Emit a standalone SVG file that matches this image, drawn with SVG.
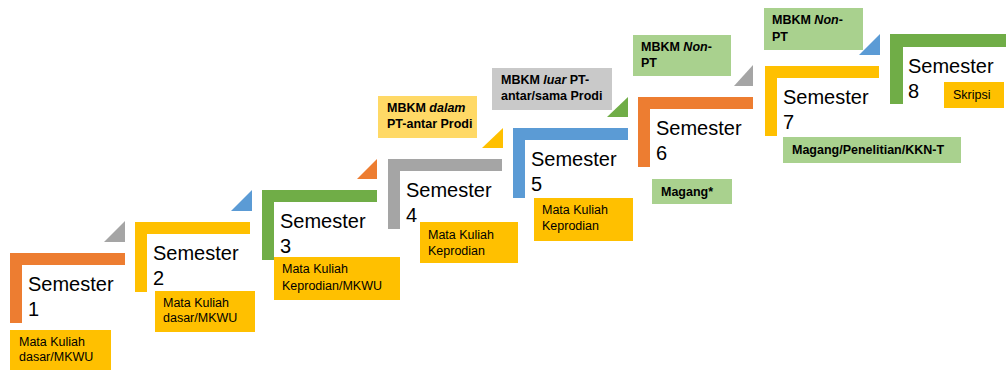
<svg xmlns="http://www.w3.org/2000/svg" width="1007" height="371" viewBox="0 0 1007 371">
<style>
.sem{font-family:"Liberation Sans",Arial,sans-serif;font-size:20px;fill:#000}
.lbl{font-family:"Liberation Sans",Arial,sans-serif;font-size:12.5px;fill:#000}
.bld{font-family:"Liberation Sans",Arial,sans-serif;font-size:12.5px;font-weight:bold;fill:#000}
.or{fill:#ED7D31}.ye{fill:#FFC000}.gr{fill:#70AD47}.ga{fill:#A5A5A5}.bl{fill:#5B9BD5}
.box{fill:#FFC000}.lg{fill:#A9D18E}.ly{fill:#FFD966}.lgy{fill:#C9C9C9}
</style>
<rect width="1007" height="371" fill="#fff"/>
<g id="arrows">
<polygon class="ga" points="104,242 125,242 125,221"/>
<polygon class="bl" points="231,211 252,211 252,190"/>
<polygon class="or" points="357,179 377,179 377,159"/>
<polygon class="ye" points="482,148 503,148 503,128"/>
<polygon class="gr" points="607,117 628,117 628,97"/>
<polygon class="ga" points="734,86 753,86 753,65"/>
<polygon class="bl" points="859,55 880,55 880,34"/>
</g>
<g id="sem1">
<path class="or" d="M10,253H125V265H22V323H10Z"/>
<text class="sem" x="28" y="291">Semester</text><text class="sem" x="28" y="316">1</text>
<rect class="box" x="10" y="330" width="101" height="40"/>
<text class="lbl" x="19" y="346">Mata Kuliah</text><text class="lbl" x="19" y="361">dasar/MKWU</text>
</g>
<g id="sem2">
<path class="ye" d="M135,222H250V234H147V292H135Z"/>
<text class="sem" x="153" y="260">Semester</text><text class="sem" x="153" y="285">2</text>
<rect class="box" x="155" y="291" width="100" height="41"/>
<text class="lbl" x="163" y="307">Mata Kuliah</text><text class="lbl" x="163" y="322">dasar/MKWU</text>
</g>
<g id="sem3">
<path class="gr" d="M262,190H377V202H274V260H262Z"/>
<text class="sem" x="280" y="228">Semester</text><text class="sem" x="280" y="253">3</text>
<rect class="box" x="274" y="257" width="126" height="43"/>
<text class="lbl" x="282" y="273">Mata Kuliah</text><text class="lbl" x="282" y="290">Keprodian/MKWU</text>
</g>
<g id="sem4">
<path class="ga" d="M388,159H502V171H400V229H388Z"/>
<text class="sem" x="406" y="197">Semester</text><text class="sem" x="406" y="222">4</text>
<rect class="box" x="420" y="222" width="98" height="41"/>
<text class="lbl" x="428" y="239">Mata Kuliah</text><text class="lbl" x="428" y="255">Keprodian</text>
</g>
<g id="mbkm-dalam">
<rect class="ly" x="378" y="96" width="99" height="42"/>
<text class="bld" x="387" y="112">MBKM <tspan font-style="italic">dalam</tspan></text><text class="bld" x="387" y="128">PT-antar Prodi</text>
</g>
<g id="sem5">
<path class="bl" d="M513,128H628V140H525V198H513Z"/>
<text class="sem" x="531" y="166">Semester</text><text class="sem" x="531" y="191">5</text>
<rect class="box" x="534" y="198" width="99" height="43"/>
<text class="lbl" x="542" y="214">Mata Kuliah</text><text class="lbl" x="542" y="230">Keprodian</text>
</g>
<g id="mbkm-luar">
<rect class="lgy" x="492" y="68" width="120" height="42"/>
<text class="bld" x="501" y="84">MBKM <tspan font-style="italic">luar</tspan> PT-</text><text class="bld" x="501" y="100">antar/sama Prodi</text>
</g>
<g id="sem6">
<path class="or" d="M638,97H753V109H650V167H638Z"/>
<text class="sem" x="656" y="135">Semester</text><text class="sem" x="656" y="160">6</text>
<rect class="lg" x="652" y="179" width="80" height="25"/>
<text class="bld" x="661" y="196">Magang*</text>
</g>
<g id="mbkm-nonpt-6">
<rect class="lg" x="633" y="35" width="98" height="41"/>
<text class="bld" x="641" y="51">MBKM <tspan font-style="italic">Non</tspan>-</text><text class="bld" x="641" y="67">PT</text>
</g>
<g id="sem7">
<path class="ye" d="M765,66H879V78H777V136H765Z"/>
<text class="sem" x="783" y="104">Semester</text><text class="sem" x="783" y="129">7</text>
<rect class="lg" x="783" y="137" width="178" height="26"/>
<text class="bld" x="792" y="154">Magang/Penelitian/KKN-T</text>
</g>
<g id="mbkm-nonpt-7">
<rect class="lg" x="764" y="8" width="99" height="42"/>
<text class="bld" x="772" y="24">MBKM <tspan font-style="italic">Non</tspan>-</text><text class="bld" x="772" y="41">PT</text>
</g>
<g id="sem8">
<path class="gr" d="M890,34H1006V47H903V104H890Z"/>
<text class="sem" x="908" y="73">Semester</text><text class="sem" x="908" y="98">8</text>
<rect class="box" x="944" y="82" width="60" height="26"/>
<text class="lbl" x="953" y="99">Skripsi</text>
</g>
</svg>
